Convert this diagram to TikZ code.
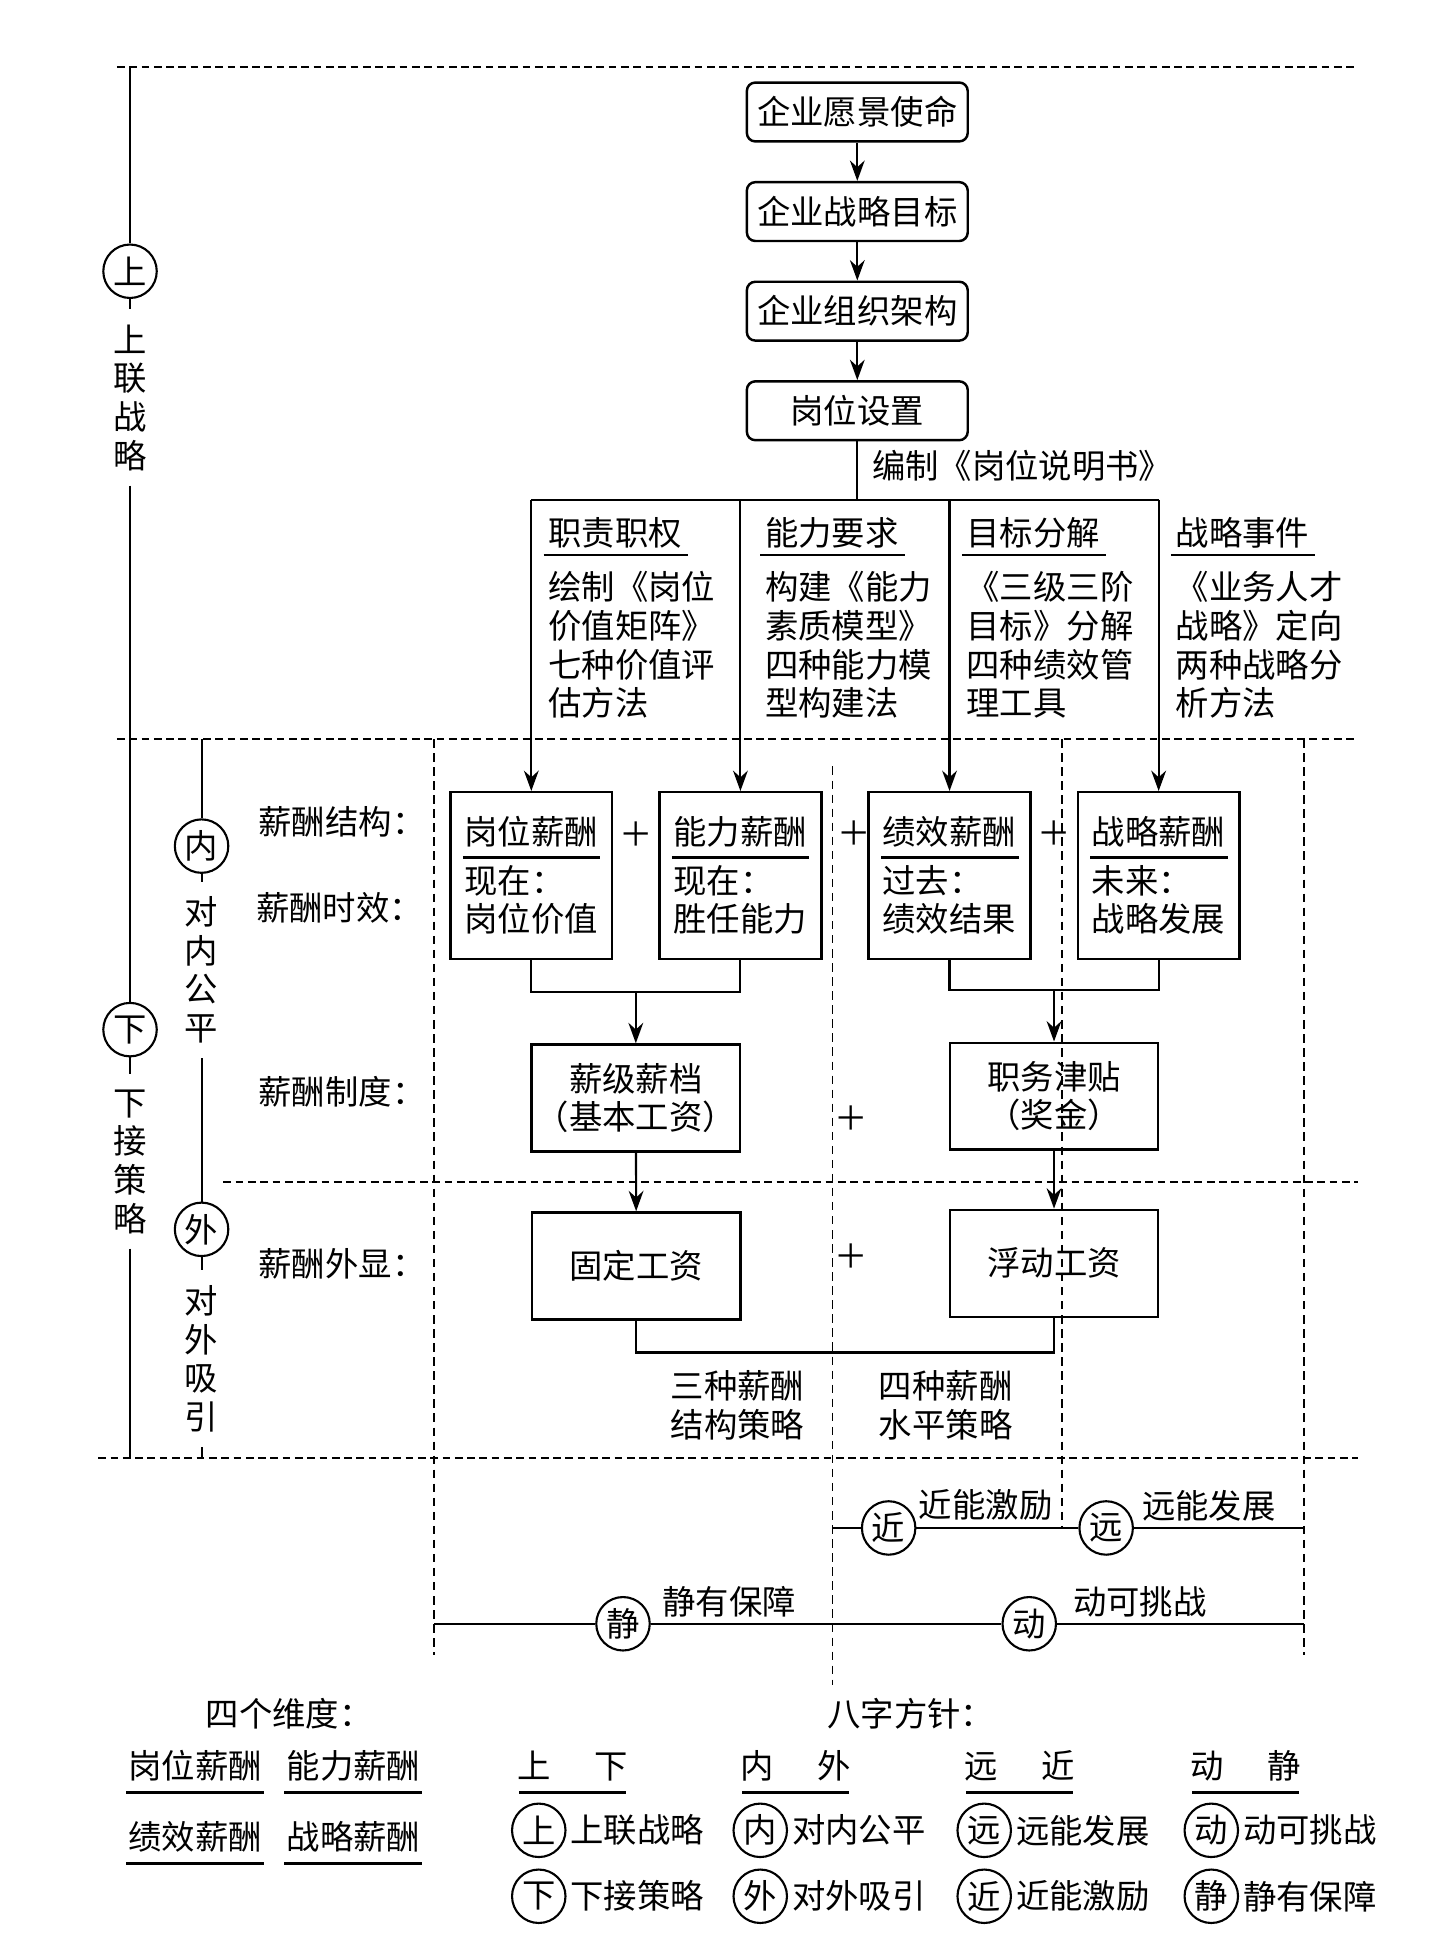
\documentclass[tikz,border=0pt]{standalone}
\usepackage{fontspec}
\setmainfont{Noto Sans CJK SC}
\usetikzlibrary{arrows.meta,positioning,calc}

\begin{document}
\begin{tikzpicture}[
  x=0.012444cm, y=-0.012444cm,
  font=\fontsize{9.5pt}{11pt}\selectfont,
  >={Stealth[length=5.8pt,width=4.2pt]}, line width=0.6pt,
  node distance=0.383cm,
  topbox/.style={draw, line width=0.7pt, rounded corners=2.4pt, minimum width=2.21cm, minimum height=0.589cm, inner sep=0pt},
  paybox/.style={draw, line width=0.7pt, minimum width=1.618cm, minimum height=1.668cm, inner sep=0pt, text width=1.34cm, align=left},
  salbox/.style={draw, line width=0.7pt, minimum width=2.084cm, minimum height=1.07cm, inner sep=0pt, align=center},
  ring/.style={draw, circle, minimum size=0.535cm, inner sep=0pt},
  vtext/.style={align=center, inner xsep=0pt, inner ysep=4pt},
  plain/.style={inner sep=0pt},
  uline/.style={line width=0.8pt},
  hdash/.style={dash pattern=on 2.2pt off 1.3pt, line width=0.6pt},
  vdash/.style={dash pattern=on 2.4pt off 1.6pt, line width=0.5pt}
]
  \useasboundingbox (0,0) rectangle (1170,1568);

  % dashed grid
  \draw[hdash] (94,53.7) -- (1091,53.7);
  \draw[hdash] (94,594) -- (1091,594);
  \draw[hdash] (179.5,950) -- (1091,950);
  \draw[hdash] (79,1172) -- (1091,1172);
  \draw[vdash] (349,594) -- (349,1330);
  \draw[vdash] (669,616) -- (669,1354);
  \draw[vdash] (853.7,594) -- (853.7,1228);
  \draw[vdash] (1048,594) -- (1048,1330);

  % left axes
  \coordinate (l1a) at (104.5,53.7);
  \coordinate (l1b) at (104.5,1172);
  \node[ring] (shang) at (104.5,218) {上};
  \node[vtext] (sllz) at (104.5,319.5) {上\\联\\战\\略};
  \node[ring] (xia) at (104.5,827.5) {下};
  \node[vtext] (xjcl) at (104.5,933.5) {下\\接\\策\\略};
  \draw (l1a) -- (shang) -- (sllz) -- (xia) -- (xjcl) -- (l1b);

  \coordinate (l2a) at (162,594);
  \coordinate (l2b) at (162,1172);
  \node[ring] (nei) at (162,680) {内};
  \node[vtext] (dngp) at (162,779.5) {对\\内\\公\\平};
  \node[ring] (wai) at (162,988) {外};
  \node[vtext] (dwxy) at (162,1092) {对\\外\\吸\\引};
  \draw (l2a) -- (nei) -- (dngp) -- (wai) -- (dwxy) -- (l2b);

  % top chain
  \node[topbox] (yjsm) at (689,90) {企业愿景使命};
  \node[topbox, below=of yjsm] (zlmb) {企业战略目标};
  \node[topbox, below=of zlmb] (zzjg) {企业组织架构};
  \node[topbox, below=of zzjg] (gwsz) {岗位设置};
  \draw[->] (yjsm) -- (zlmb);
  \draw[->] (zlmb) -- (zzjg);
  \draw[->] (zzjg) -- (gwsz);

  \coordinate (fork) at (689,401.8);
  \node[plain, anchor=west] (bzsm) at (700,374) {编制《岗位说明书》};
  \draw (gwsz) -- (fork);

  % four pay boxes
  \node[paybox] (gwxc) at (427,703.7) {岗位薪酬\\[2.8pt]现在：\\岗位价值};
  \node[paybox, right=0.45cm of gwxc] (nlxc) {能力薪酬\\[2.8pt]现在：\\胜任能力};
  \node[paybox, right=0.45cm of nlxc] (jxxc) {绩效薪酬\\[2.8pt]过去：\\绩效结果};
  \node[paybox, right=0.45cm of jxxc] (zlxc) {战略薪酬\\[2.8pt]未来：\\战略发展};
  \foreach \n in {gwxc,nlxc,jxxc,zlxc}
    \draw[uline] ($(\n.center)+(-55,-14.5)$) -- ++(110.5,0);
  \draw (gwxc |- fork) -- (zlxc |- fork);
  \foreach \n in {gwxc,nlxc,jxxc,zlxc}
    \draw[->] (\n |- fork) -- (\n);

  % column notes
  \node[plain, anchor=west] (zzzq) at (440,428.6) {职责职权};
  \node[plain, anchor=west] (nlyq) at (614,428.6) {能力要求};
  \node[plain, anchor=west] (mbfj) at (776,428.6) {目标分解};
  \node[plain, anchor=west] (zlsj) at (944,428.6) {战略事件};
  \foreach \n in {zzzq,nlyq,mbfj,zlsj}
    \draw[uline] ($(\n.west)+(-3,17.5)$) -- ++(116,0);
  \node[plain, anchor=north west, align=left] (zzzqb) at ($(zzzq.west)+(0,30)$) {绘制《岗位\\价值矩阵》\\七种价值评\\估方法};
  \node[plain, anchor=north west, align=left] (nlyqb) at ($(nlyq.west)+(0,30)$) {构建《能力\\素质模型》\\四种能力模\\型构建法};
  \node[plain, anchor=north west, align=left] (mbfjb) at ($(mbfj.west)+(0,30)$) {《三级三阶\\目标》分解\\四种绩效管\\理工具};
  \node[plain, anchor=north west, align=left] (zlsjb) at ($(zlsj.west)+(0,30)$) {《业务人才\\战略》定向\\两种战略分\\析方法};

  % row labels
  \node[plain, anchor=west] (xcjg) at (207,660.3) {薪酬结构：};
  \node[plain, anchor=west] (xcsx) at (205,730) {薪酬时效：};
  \node[plain, anchor=west] (xczd) at (207,877.3) {薪酬制度：};
  \node[plain, anchor=west] (xcwx) at (207,1016) {薪酬外显：};

  % plus signs
  \node[plain] (p1) at (511.6,670.5) {＋};
  \node[plain] (p2) at (686.5,669.7) {＋};
  \node[plain] (p3) at (847.3,669.7) {＋};
  \node[plain] (p4) at (684.4,898.7) {＋};
  \node[plain] (p5) at (684.4,1009.9) {＋};

  % salary system
  \node[salbox] (xjxd) at (511,882.4) {薪级薪档\\（基本工资）};
  \node[salbox] (zwjt) at (847.1,881) {职务津贴\\（奖金）};
  \node[salbox] (gdgz) at (511.4,1017.4) {固定工资};
  \node[salbox] (fdgz) at (847.1,1015.3) {浮动工资};

  \coordinate (j1) at (511,797);
  \coordinate (j2) at (847.1,796);
  \coordinate (j3) at (679,1087);
  \draw (gwxc) |- (j1) -| (nlxc);
  \draw[->] (j1) -- (xjxd);
  \draw (jxxc) |- (j2) -| (zlxc);
  \draw[->] (j2) -- (zwjt);
  \draw[->] (xjxd) -- (gdgz);
  \draw[->] (zwjt) -- (fdgz);
  \draw (gdgz) |- (j3) -| (fdgz);

  \node[plain, align=center] (jgcl) at (592.7,1129.5) {三种薪酬\\结构策略};
  \node[plain, align=center] (spcl) at (760,1129.5) {四种薪酬\\水平策略};

  % near / far, static / dynamic
  \coordinate (r1a) at (669,1228);
  \coordinate (r1b) at (1048,1228);
  \node[ring] (jin) at (714.2,1228) {近};
  \node[ring] (yuan) at (889,1228) {远};
  \draw (r1a) -- (jin) -- (yuan) -- (r1b);
  \node[plain] (jnjl) at (792.2,1209.5) {近能激励};
  \node[plain] (ynfz) at (971.5,1210) {远能发展};

  \coordinate (r2a) at (349,1305);
  \coordinate (r2b) at (1048,1305);
  \node[ring] (jing) at (500.7,1305) {静};
  \node[ring] (dong) at (827.2,1305) {动};
  \draw (r2a) -- (jing) -- (dong) -- (r2b);
  \node[plain] (jybz) at (586,1287) {静有保障};
  \node[plain] (dktz) at (916,1287) {动可挑战};

  % legend
  \node[plain] (sgwd) at (232.5,1377) {四个维度：};
  \node[plain] (bzfz) at (732,1377) {八字方针：};

  \node[plain] (lgw) at (157,1419) {岗位薪酬};
  \node[plain] (lnl) at (284,1419) {能力薪酬};
  \node[plain] (ljx) at (157,1476) {绩效薪酬};
  \node[plain] (lzl) at (284,1476) {战略薪酬};
  \foreach \n in {lgw,lnl,ljx,lzl}
    \draw[uline] ($(\n.center)+(-55.5,21.5)$) -- ++(111,0);

  \node[plain] (hsx) at (460.5,1419) {上\hspace{1.3em}下};
  \node[plain] (hnw) at (639.5,1419) {内\hspace{1.3em}外};
  \node[plain] (hyj) at (819.5,1419) {远\hspace{1.3em}近};
  \node[plain] (hdj) at (1001,1419) {动\hspace{1.3em}静};
  \foreach \n in {hsx,hnw,hyj,hdj}
    \draw[uline] ($(\n.center)+(-43,21.5)$) -- ++(86,0);

  \node[ring] (ks) at (433,1471) {上};
  \node[plain, right=0.03cm of ks] (kst) {上联战略};
  \node[ring] (kx) at (433,1524) {下};
  \node[plain, right=0.03cm of kx] (kxt) {下接策略};
  \node[ring] (kn) at (611,1471) {内};
  \node[plain, right=0.03cm of kn] (knt) {对内公平};
  \node[ring] (kw) at (611,1524) {外};
  \node[plain, right=0.03cm of kw] (kwt) {对外吸引};
  \node[ring] (ky) at (791,1471) {远};
  \node[plain, right=0.03cm of ky] (kyt) {远能发展};
  \node[ring] (kj) at (791,1524) {近};
  \node[plain, right=0.03cm of kj] (kjt) {近能激励};
  \node[ring] (kd) at (973.5,1471) {动};
  \node[plain, right=0.03cm of kd] (kdt) {动可挑战};
  \node[ring] (kg) at (973.5,1524) {静};
  \node[plain, right=0.03cm of kg] (kgt) {静有保障};
\end{tikzpicture}
\end{document}
